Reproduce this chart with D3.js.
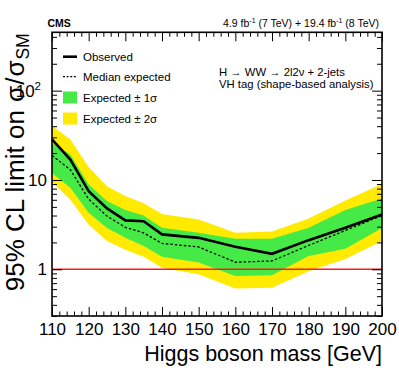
<!DOCTYPE html>
<html>
<head>
<meta charset="utf-8">
<script src="https://cdn.jsdelivr.net/npm/d3@7/dist/d3.min.js"></script>
<style>
  body { margin: 0; background: #fff; }
  svg { display: block; }
  text { font-family: "Liberation Sans", Arial, sans-serif; fill: #000; }
</style>
</head>
<body>
<svg id="chart" width="399" height="383"></svg>
<script>
// Higgs mass points and limits
const masses = [110, 115, 120, 125, 130, 135, 140, 150, 160, 170, 180, 190, 200]
const observed = [28.4, 16.9, 7.5, 4.8, 3.53, 3.45, 2.46, 2.25, 1.79, 1.49, 2.12, 2.92, 4.1]
const expected = [18.8, 13.0, 6.1, 3.94, 2.95, 2.56, 1.95, 1.78, 1.2, 1.24, 1.85, 2.72, 4.0]
const plus1 = [26, 19.3, 8.9, 5.8, 4.6, 4.0, 2.92, 2.56, 2.2, 2.2, 2.92, 4.6, 6.2]
const minus1 = [12, 8.2, 4.3, 2.9, 2.25, 1.82, 1.38, 1.19, 0.84, 0.86, 1.41, 1.7, 2.9]
const plus2 = [40.5, 28.4, 14, 8.5, 6.6, 5.5, 4.15, 3.62, 2.56, 2.65, 3.7, 5.9, 9.0]
const minus2 = [9.5, 6.0, 3.15, 2.07, 1.65, 1.38, 1.04, 0.88, 0.61, 0.62, 0.95, 1.3, 2.07]

const xMajor = [110, 120, 130, 140, 150, 160, 170, 180, 190, 200]
const yMajor = [1, 10, 100]
const legendLabels = ["Observed", "Median expected", "Expected \u00b1 1\u03c3", "Expected \u00b1 2\u03c3"]

const green = "#46ea46"
const yellow = "#ffea00"

const svg = d3.select("#chart")

const padL = 52, padR = 382, padT = 32.3, padB = 316
const x = d3.scaleLinear().domain([110, 200]).range([padL, padR])
const y = d3.scaleLog().domain([0.3, 450]).range([padB, padT])

// minor ticks
const xMinor = d3.range(110, 201, 2).filter((v) => !xMajor.includes(v))
const yMinor = []
;[0.1, 1, 10, 100].forEach((dec) => {
  for (let k = 2; k <= 9; k++) {
    const v = +(dec * k).toPrecision(3)
    if (v >= 0.3 && v <= 450) yMinor.push(v)
  }
})

// bands
const band = (lo, hi) =>
  d3
    .area()
    .x((d, i) => x(masses[i]))
    .y0((d, i) => y(lo[i]))
    .y1((d, i) => y(hi[i]))

svg.append("path").attr("d", band(minus2, plus2)(masses)).attr("fill", yellow)
svg.append("path").attr("d", band(minus1, plus1)(masses)).attr("fill", green)

// SM line
svg
  .append("line")
  .attr("x1", padL)
  .attr("x2", padR)
  .attr("y1", y(1))
  .attr("y2", y(1))
  .attr("stroke", "#ff1a1a")
  .attr("stroke-width", 1.6)

const line = (vals) =>
  d3
    .line()
    .x((d, i) => x(masses[i]))
    .y((d, i) => y(vals[i]))

svg
  .append("path")
  .attr("d", line(expected)(masses))
  .attr("fill", "none")
  .attr("stroke", "#000")
  .attr("stroke-width", 1.3)
  .attr("stroke-dasharray", "2.5,2")

svg
  .append("path")
  .attr("d", line(observed)(masses))
  .attr("fill", "none")
  .attr("stroke", "#000")
  .attr("stroke-width", 2.6)

// axes, ticks pointing inside the frame
function axisPair(axisFn, scale, transform, majorVals, minorVals, majorLen, minorLen, fmt) {
  svg
    .append("g")
    .attr("transform", transform)
    .call(axisFn(scale).tickValues(minorVals).tickSize(-minorLen).tickFormat(""))
    .call((g) => g.select(".domain").remove())
  return svg
    .append("g")
    .attr("transform", transform)
    .call(axisFn(scale).tickValues(majorVals).tickSize(-majorLen).tickPadding(7).tickFormat(fmt))
    .call((g) => g.select(".domain").remove())
}

const xAxis = axisPair(d3.axisBottom, x, `translate(0,${padB})`, xMajor, xMinor, 9, 4.5, d3.format("d"))
axisPair(d3.axisTop, x, `translate(0,${padT})`, xMajor, xMinor, 9, 4.5, () => "")
const yAxis = axisPair(d3.axisLeft, y, `translate(${padL},0)`, yMajor, yMinor, 10, 5, (d) => (d === 100 ? "10" : d))
axisPair(d3.axisRight, y, `translate(${padR},0)`, yMajor, yMinor, 10, 5, () => "")

svg.selectAll(".tick line").attr("stroke", "#000").attr("stroke-width", 1)

xAxis.selectAll("text").attr("font-size", 17).attr("font-family", '"Liberation Sans", Arial, sans-serif')
yAxis
  .selectAll("text")
  .attr("font-size", 17)
  .attr("font-family", '"Liberation Sans", Arial, sans-serif')
  .attr("x", -5)
yAxis
  .selectAll(".tick")
  .filter((d) => d === 100)
  .select("text")
  .attr("x", -11)
  .append("tspan")
  .attr("dy", "-0.55em")
  .attr("font-size", 11.5)
  .text("2")

// frame
svg
  .append("rect")
  .attr("x", padL)
  .attr("y", padT)
  .attr("width", padR - padL)
  .attr("height", padB - padT)
  .attr("fill", "none")
  .attr("stroke", "#000")
  .attr("stroke-width", 1.6)

// titles
svg
  .append("text")
  .attr("x", padR)
  .attr("y", 361)
  .attr("text-anchor", "end")
  .attr("font-size", 21.5)
  .text("Higgs boson mass [GeV]")

const yTitle = svg
  .append("text")
  .attr("transform", `translate(24,${padT + 1}) rotate(-90)`)
  .attr("text-anchor", "end")
  .attr("font-size", 26)
yTitle.append("tspan").text("95% CL limit on ")
yTitle.append("tspan").attr("dx", 1).text("\u03c3")
yTitle.append("tspan").attr("dx", 1).text("/")
yTitle.append("tspan").attr("dx", 1).text("\u03c3")
yTitle.append("tspan").attr("dx", 1).attr("font-size", 17.5).attr("dy", 5).text("SM")

svg.append("text").attr("x", 47.5).attr("y", 27).attr("font-size", 10.5).attr("font-weight", "bold").text("CMS")

const lumi = svg.append("text").attr("x", 379).attr("y", 27).attr("text-anchor", "end").attr("font-size", 10.5)
lumi.append("tspan").text("4.9 fb")
lumi.append("tspan").attr("dy", -4).attr("font-size", 7).text("-1")
lumi.append("tspan").attr("dy", 4).text(" (7 TeV) + 19.4 fb")
lumi.append("tspan").attr("dy", -4).attr("font-size", 7).text("-1")
lumi.append("tspan").attr("dy", 4).text(" (8 TeV)")

// legend
const legY = [56.7, 76.7, 97.5, 118.5]
const leg = svg.append("g")
leg.append("line").attr("x1", 63).attr("x2", 77).attr("y1", legY[0]).attr("y2", legY[0]).attr("stroke", "#000").attr("stroke-width", 2.6)
leg
  .append("line")
  .attr("x1", 63)
  .attr("x2", 77)
  .attr("y1", legY[1])
  .attr("y2", legY[1])
  .attr("stroke", "#000")
  .attr("stroke-width", 1.2)
  .attr("stroke-dasharray", "2,1.6")
leg.append("rect").attr("x", 63).attr("y", legY[2] - 6).attr("width", 14).attr("height", 12).attr("fill", green)
leg.append("rect").attr("x", 63).attr("y", legY[3] - 6).attr("width", 14).attr("height", 12).attr("fill", yellow)
leg
  .selectAll("text")
  .data(legendLabels)
  .join("text")
  .attr("x", 83)
  .attr("y", (d, i) => legY[i] + 4)
  .attr("font-size", 11.5)
  .text((d) => d)

svg.append("text").attr("x", 219).attr("y", 75.5).attr("font-size", 11.3).text("H \u2192 WW \u2192 2l2\u03bd + 2-jets")
svg.append("text").attr("x", 219).attr("y", 87.5).attr("font-size", 11.3).text("VH tag (shape-based analysis)")
</script>
</body>
</html>
